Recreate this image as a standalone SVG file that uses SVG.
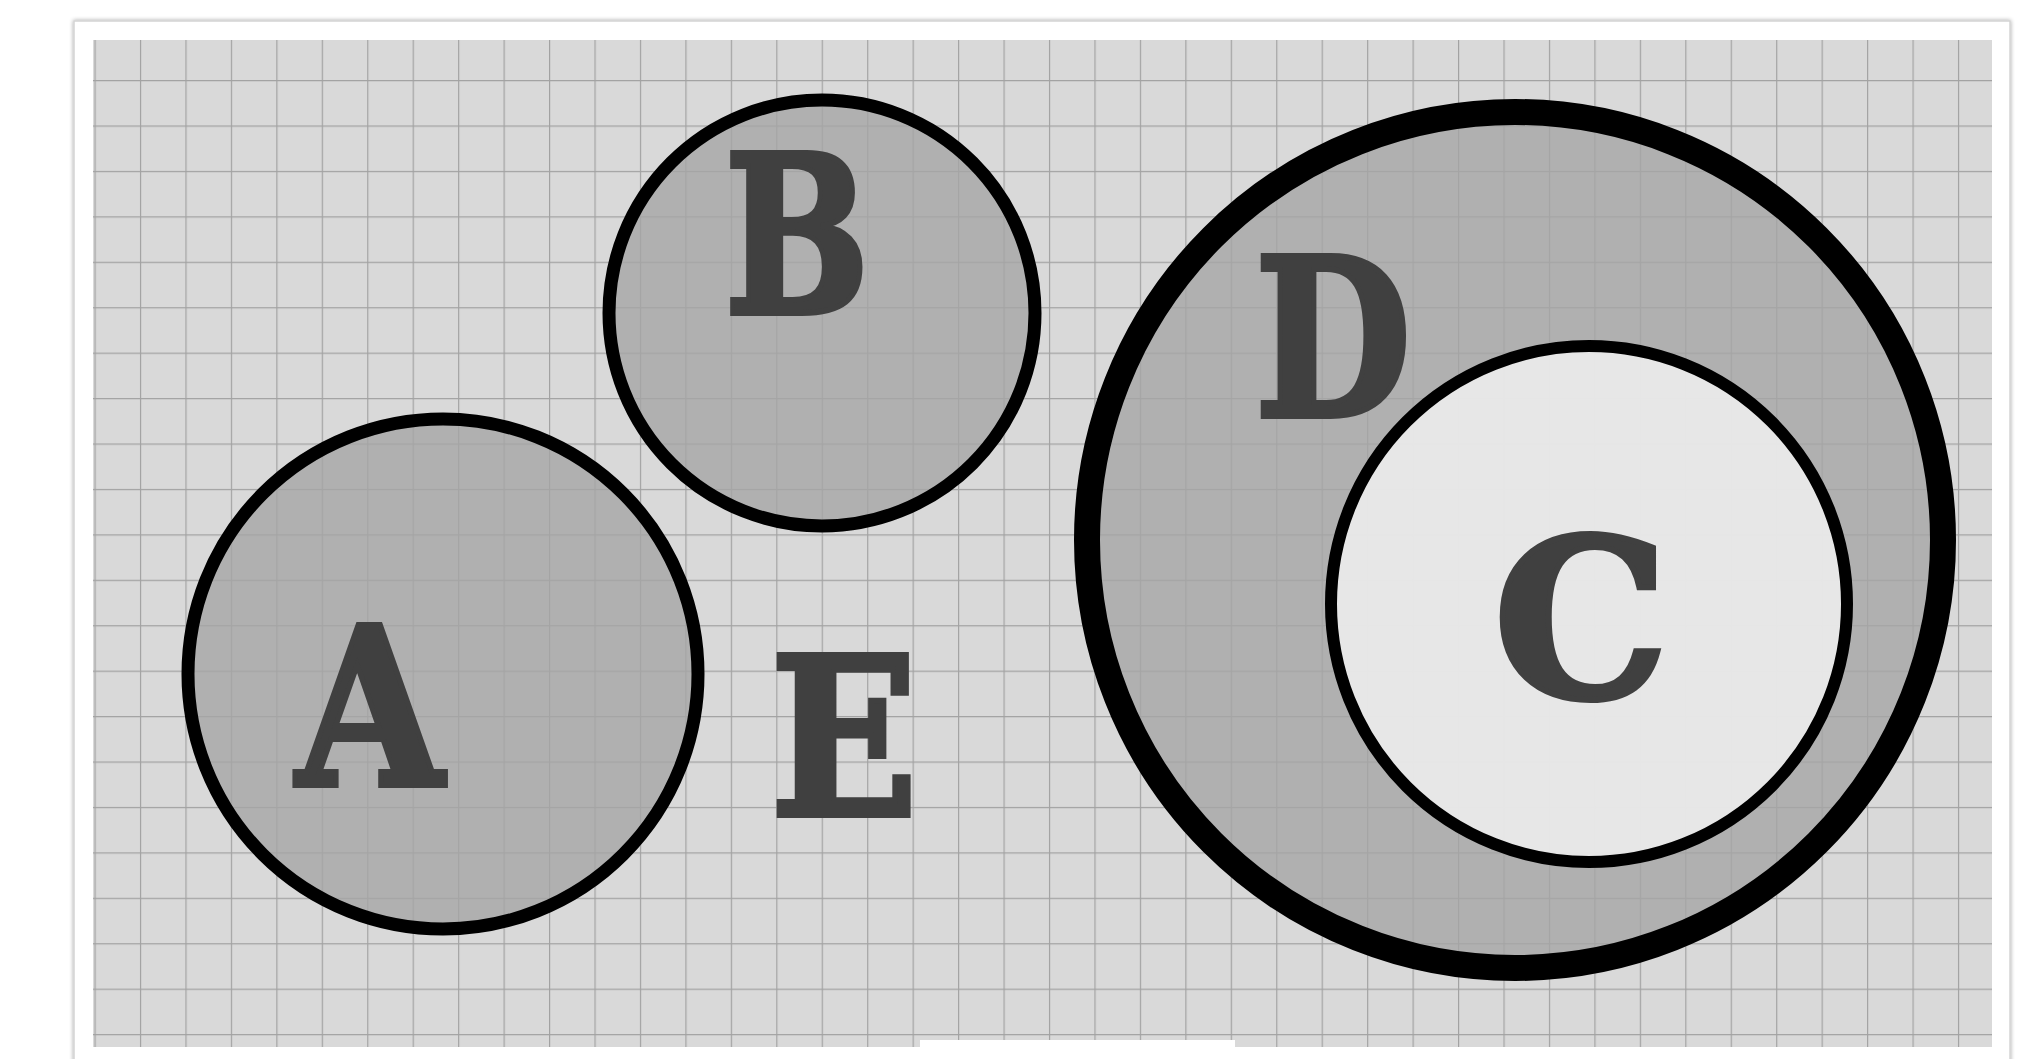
<svg xmlns="http://www.w3.org/2000/svg" width="2036" height="1059" viewBox="0 0 2036 1059">
<defs>
<pattern id="grid" x="94.5" y="34.6" width="45.45" height="45.43" patternUnits="userSpaceOnUse">
<path d="M 0 0 V 45.43 M 0 0 H 45.45" fill="none" stroke="#a2a2a2" stroke-width="2.4"/>
</pattern>
<filter id="shadow" x="-5%" y="-5%" width="110%" height="110%">
<feGaussianBlur in="SourceAlpha" stdDeviation="2"/>
<feComponentTransfer><feFuncA type="linear" slope="0.35"/></feComponentTransfer>
<feMerge><feMergeNode/><feMergeNode in="SourceGraphic"/></feMerge>
</filter>
</defs>
<style>
.set { fill: #a5a5a5; fill-opacity: 0.79; stroke: #000; stroke-width: 13; }
.inner { fill: #ececec; fill-opacity: 0.92; stroke: #000; stroke-width: 12; }
.outer { fill: #a5a5a5; fill-opacity: 0.79; stroke: #000; stroke-width: 26; }
.lbl { font-family: "DejaVu Serif", "Liberation Serif", serif; font-weight: bold; font-size: 220px; fill: #404040; stroke: #404040; stroke-width: 6; stroke-linejoin: miter; text-anchor: middle; }
</style>
<rect width="2036" height="1059" fill="#ffffff"/>
<rect x="74" y="21" width="1936" height="1100" fill="#ffffff" stroke="#d4d4d4" stroke-width="1.5" filter="url(#shadow)"/>
<rect x="93" y="40" width="1899" height="1007" fill="#d9d9d9"/>
<rect x="93" y="40" width="1899" height="1007" fill="url(#grid)"/>
<rect x="920" y="1040" width="315" height="19" fill="#ffffff"/>
<g id="connectors"></g>
<g id="node-A">
<circle class="set" cx="443" cy="674" r="255"/>
<text class="lbl" transform="translate(370 785) scale(0.86 1)">A</text>
</g>
<g id="node-B">
<circle class="set" cx="822" cy="313" r="213"/>
<text class="lbl" transform="translate(797 313) scale(0.78 1)">B</text>
</g>
<g id="node-E">
<text class="lbl" transform="translate(844 815) scale(0.88 1)">E</text>
</g>
<g id="node-D">
<circle class="outer" cx="1515" cy="540" r="428"/>
<text class="lbl" transform="translate(1333 416) scale(0.82 1)">D</text>
</g>
<g id="node-C">
<circle class="inner" cx="1589" cy="604" r="258"/>
<text class="lbl" transform="translate(1581 697) scale(1 1)">C</text>
</g>
</svg>
